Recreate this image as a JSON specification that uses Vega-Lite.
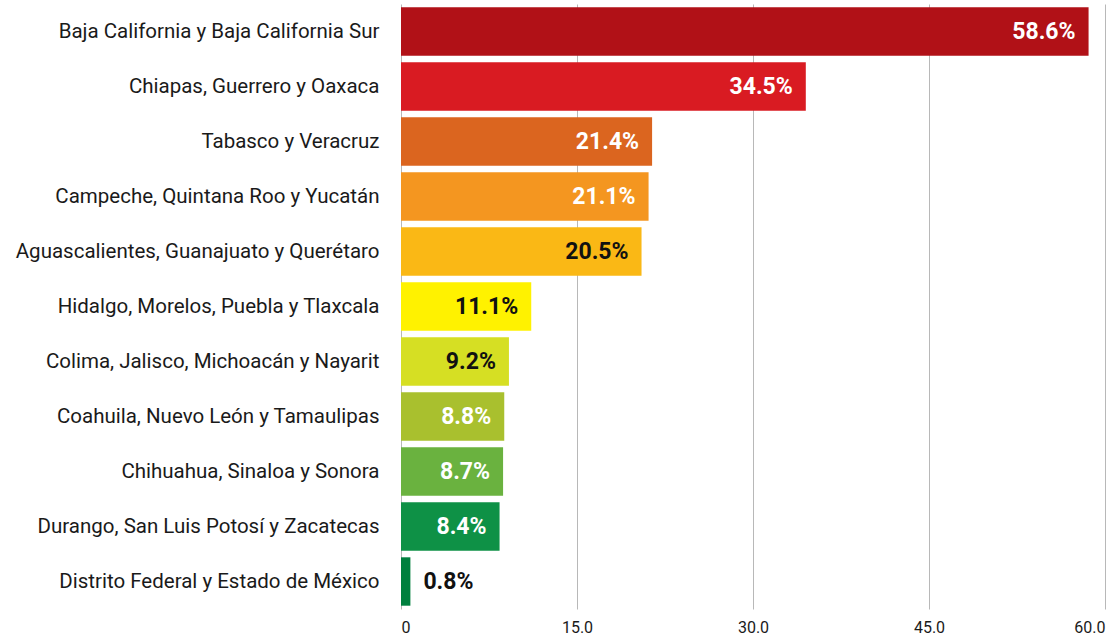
{
  "$schema": "https://vega.github.io/schema/vega-lite/v6.json",
  "width": 704,
  "height": 605,
  "autosize": {"type": "none"},
  "padding": {"left": 401, "top": 4, "right": 15, "bottom": 26},
  "background": "white",
  "config": {"view": {"stroke": null}, "font": "Roboto"},
  "data": {
    "values": [
      {"region": "Baja California y Baja California Sur", "value": 58.6},
      {"region": "Chiapas, Guerrero y Oaxaca", "value": 34.5},
      {"region": "Tabasco y Veracruz", "value": 21.4},
      {"region": "Campeche, Quintana Roo y Yucatán", "value": 21.1},
      {"region": "Aguascalientes, Guanajuato y Querétaro", "value": 20.5},
      {"region": "Hidalgo, Morelos, Puebla y Tlaxcala", "value": 11.1},
      {"region": "Colima, Jalisco, Michoacán y Nayarit", "value": 9.2},
      {"region": "Coahuila, Nuevo León y Tamaulipas", "value": 8.8},
      {"region": "Chihuahua, Sinaloa y Sonora", "value": 8.7},
      {"region": "Durango, San Luis Potosí y Zacatecas", "value": 8.4},
      {"region": "Distrito Federal y Estado de México", "value": 0.8}
    ]
  },
  "transform": [{"calculate": "format(datum.value, '.1f') + '%'", "as": "label"}],
  "encoding": {
    "y": {
      "field": "region",
      "type": "nominal",
      "sort": null,
      "scale": {"paddingInner": 0.12, "paddingOuter": 0.06},
      "axis": {
        "title": null,
        "ticks": false,
        "domain": false,
        "labelFontSize": 20.5,
        "labelColor": "#1a1a1a",
        "labelPadding": 22,
        "labelLimit": 400
      }
    },
    "x": {
      "field": "value",
      "type": "quantitative",
      "scale": {"domain": [0, 60], "nice": false},
      "axis": {
        "title": null,
        "values": [0, 15, 30, 45, 60],
        "labelExpr": "datum.value === 0 ? '0' : format(datum.value, '.1f')",
        "ticks": false,
        "domain": false,
        "grid": true,
        "gridColor": "#b8b8b8",
        "gridWidth": 1,
        "labelFontSize": 16,
        "labelColor": "#1a1a1a",
        "labelPadding": 10
      }
    }
  },
  "layer": [
    {
      "mark": {"type": "bar"},
      "encoding": {
        "color": {
          "field": "region",
          "type": "nominal",
          "legend": null,
          "scale": {
            "domain": [
              "Baja California y Baja California Sur",
              "Chiapas, Guerrero y Oaxaca",
              "Tabasco y Veracruz",
              "Campeche, Quintana Roo y Yucatán",
              "Aguascalientes, Guanajuato y Querétaro",
              "Hidalgo, Morelos, Puebla y Tlaxcala",
              "Colima, Jalisco, Michoacán y Nayarit",
              "Coahuila, Nuevo León y Tamaulipas",
              "Chihuahua, Sinaloa y Sonora",
              "Durango, San Luis Potosí y Zacatecas",
              "Distrito Federal y Estado de México"
            ],
            "range": ["#b11117", "#d91b22", "#db651f", "#f49620", "#fab815", "#fff200", "#d6df23", "#a9c02e", "#6ab23f", "#0e9146", "#007f3e"]
          }
        }
      }
    },
    {
      "transform": [{"filter": "datum.value >= 5"}],
      "mark": {"type": "text", "align": "right", "baseline": "middle", "dx": -13, "fontSize": 23, "fontWeight": "bold"},
      "encoding": {
        "text": {"field": "label", "type": "nominal"},
        "color": {
          "condition": {
            "test": "indexof(['Aguascalientes, Guanajuato y Querétaro','Hidalgo, Morelos, Puebla y Tlaxcala','Colima, Jalisco, Michoacán y Nayarit'], datum.region) >= 0",
            "value": "#111111"
          },
          "value": "#ffffff"
        }
      }
    },
    {
      "transform": [{"filter": "datum.value < 5"}],
      "mark": {"type": "text", "align": "left", "baseline": "middle", "dx": 13, "fontSize": 23, "fontWeight": "bold", "color": "#111111"},
      "encoding": {
        "text": {"field": "label", "type": "nominal"}
      }
    }
  ]
}
